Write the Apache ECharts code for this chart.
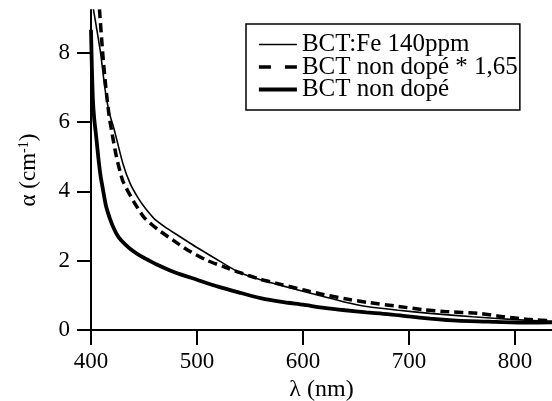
<!DOCTYPE html>
<html>
<head>
<meta charset="utf-8">
<script src="https://cdn.jsdelivr.net/npm/echarts@6/dist/echarts.min.js"></script>
<style>html,body{margin:0;padding:0;background:#fff}#c{width:552px;height:401px}</style>
</head>
<body>
<div id="c"></div>
<script>
const xTicks = [400, 500, 600, 700, 800];
const yTicks = [0, 2, 4, 6, 8];

const nameFe = 'BCT:Fe 140ppm';
const lambdaFe = [402, 409, 413, 417, 422, 430, 437, 445, 452, 460, 470, 480, 500, 525, 540, 560, 580, 600, 620, 640, 660, 690, 720, 760, 800, 835];
const alphaFe  = [9.3, 8.0, 7.0, 6.3, 5.77, 4.81, 4.22, 3.78, 3.48, 3.2, 2.97, 2.77, 2.38, 1.92, 1.66, 1.45, 1.28, 1.12, 0.96, 0.8, 0.68, 0.57, 0.48, 0.38, 0.3, 0.25];

const nameScaled = 'BCT non dopé * 1,65';
const lambdaScaled = [408, 411, 414, 417, 420, 424, 430, 440, 450, 463, 477, 491, 510, 525, 540, 560, 580, 600, 620, 640, 660, 690, 715, 735, 765, 790, 815, 835];
const alphaScaled  = [9.25, 8.0, 7.0, 6.2, 5.65, 5.0, 4.3, 3.72, 3.25, 2.9, 2.6, 2.31, 2.0, 1.83, 1.66, 1.46, 1.31, 1.16, 1.02, 0.9, 0.8, 0.68, 0.58, 0.53, 0.48, 0.38, 0.3, 0.27];

const nameBase = 'BCT non dopé';
const lambdaBase = [400, 400.8, 401.7, 403, 405, 407, 409, 411, 414, 418, 422, 426, 433, 440, 447, 455, 462, 480, 500, 520, 540, 560, 580, 600, 620, 640, 660, 680, 700, 720, 745, 775, 810, 835];
const alphaBase  = [8.66, 7.6, 6.7, 6.1, 5.55, 4.95, 4.45, 4.1, 3.6, 3.2, 2.9, 2.68, 2.45, 2.27, 2.13, 2.0, 1.89, 1.65, 1.45, 1.25, 1.08, 0.92, 0.81, 0.73, 0.64, 0.57, 0.51, 0.46, 0.39, 0.33, 0.27, 0.24, 0.21, 0.22];

const zip = (xs, ys) => xs.map((x, i) => [x, ys[i]]);
const FONT = 'Liberation Serif';

const chart = echarts.init(document.getElementById('c'), null, {renderer: 'canvas'});
chart.setOption({
  animation: false,
  backgroundColor: '#fff',
  grid: {left: 91, top: 10, right: 0, bottom: 71, containLabel: false, outerBoundsMode: 'none'},
  legend: {
    orient: 'vertical',
    left: 246, top: 24,
    padding: [8, 2, 8, 11],
    borderColor: '#000', borderWidth: 1.5,
    itemWidth: 38, itemHeight: 14, itemGap: -2.5,
    itemStyle: {opacity: 0, borderWidth: 0},
    textStyle: {fontFamily: FONT, fontSize: 25, color: '#000'},
    data: [
      {name: nameFe, lineStyle: {width: 1.6, color: '#000', type: 'solid'}},
      {name: nameScaled, lineStyle: {width: 3.5, color: '#000', type: [12, 14]}},
      {name: nameBase, lineStyle: {width: 3.8, color: '#000', type: 'solid'}}
    ]
  },
  xAxis: {
    type: 'value', min: 400, max: 835,
    name: 'λ (nm)', nameLocation: 'middle', nameGap: 47,
    nameTextStyle: {fontFamily: FONT, fontSize: 24, color: '#000'},
    axisLine: {show: true, onZero: false, lineStyle: {color: '#000', width: 2}},
    axisTick: {show: true, inside: false, length: 15, lineStyle: {color: '#000', width: 2}, customValues: xTicks},
    axisLabel: {fontFamily: FONT, fontSize: 23, color: '#000', margin: 20, customValues: xTicks},
    splitLine: {show: false}
  },
  yAxis: {
    type: 'value', min: 0, max: 9.23,
    name: '{a|α (cm}{s|-1}{a|)}', nameLocation: 'middle', nameGap: 50, nameRotate: 90,
    nameTextStyle: {
      fontFamily: FONT, fontSize: 23, color: '#000',
      rich: {a: {fontFamily: FONT, fontSize: 23, color: '#000'},
             s: {fontFamily: FONT, fontSize: 14, color: '#000', verticalAlign: 'top', padding: [0, 0, 10, 0]}}
    },
    axisLine: {show: true, onZero: false, lineStyle: {color: '#000', width: 2}},
    axisTick: {show: true, inside: false, length: 14, lineStyle: {color: '#000', width: 2}, customValues: yTicks},
    axisLabel: {fontFamily: FONT, fontSize: 23, color: '#000', margin: 21, customValues: yTicks},
    splitLine: {show: false}
  },
  series: [
    {name: nameFe, type: 'line', data: zip(lambdaFe, alphaFe), showSymbol: false, symbol: 'none', smooth: 0.2,
     itemStyle: {color: '#000'}, lineStyle: {color: '#000', width: 1.6}, z: 4},
    {name: nameScaled, type: 'line', data: zip(lambdaScaled, alphaScaled), showSymbol: false, symbol: 'none', smooth: 0.2,
     itemStyle: {color: '#000'}, lineStyle: {color: '#000', width: 3.5, type: [9, 5]}, z: 3},
    {name: nameBase, type: 'line', data: zip(lambdaBase, alphaBase), showSymbol: false, symbol: 'none', smooth: 0.2,
     itemStyle: {color: '#000'}, lineStyle: {color: '#000', width: 3.8}, z: 2}
  ]
});
</script>
</body>
</html>
